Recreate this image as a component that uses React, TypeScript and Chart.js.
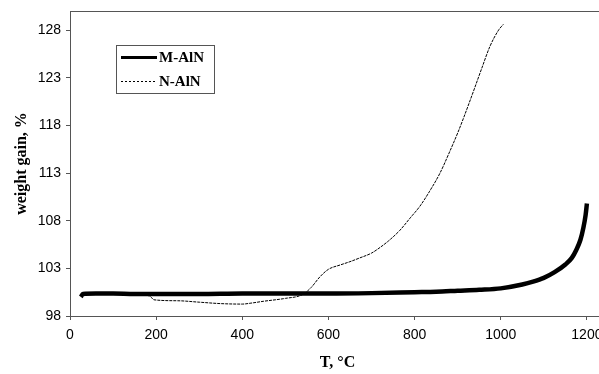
import React, { useEffect, useRef } from "react";
import { Chart, registerables } from "chart.js";

Chart.register(...registerables);

// Temperature (°C) and weight gain (%) readings
const mTemps = [25, 30, 60, 100, 150, 200, 300, 400, 500, 600, 700, 800, 850, 900, 950, 1000, 1050, 1075, 1100, 1125, 1150, 1165, 1175, 1185, 1192, 1197, 1200];
const mWeights = [100.0, 100.3, 100.35, 100.35, 100.3, 100.3, 100.3, 100.35, 100.35, 100.35, 100.4, 100.5, 100.55, 100.65, 100.75, 100.9, 101.3, 101.6, 102.0, 102.6, 103.4, 104.1, 104.9, 106.0, 107.3, 108.6, 109.8];

const nTemps = [30, 100, 150, 185, 195, 250, 300, 350, 400, 420, 450, 500, 540, 560, 580, 600, 627, 650, 673, 700, 720, 740, 766, 790, 812, 835, 859, 882, 900, 913, 936, 956, 975, 995, 1006];
const nWeights = [100.4, 100.3, 100.25, 100.1, 99.7, 99.6, 99.45, 99.3, 99.25, 99.35, 99.55, 99.85, 100.25, 101.0, 102.1, 102.9, 103.35, 103.7, 104.1, 104.6, 105.2, 105.9, 107.0, 108.3, 109.5, 111.1, 113.0, 115.3, 117.2, 118.7, 121.5, 124.0, 126.3, 128.0, 128.6];

const xTicks = [0, 200, 400, 600, 800, 1000, 1200];
const yTicks = [98, 103, 108, 113, 118, 123, 128];

const seriesLabels = ["M-AlN", "N-AlN"];
const xTitle = "T, °C";
const yTitle = "weight gain, %";

const frameColor = "#555";
const serifBold = { family: "'Liberation Serif', 'Times New Roman', serif", size: 16, weight: "bold" as const };
const tickFont = { family: "'Liberation Sans', Arial, sans-serif", size: 14 };

const framePlugin = {
  id: "frame",
  afterDraw(chart: any) {
    const { ctx, chartArea } = chart;
    ctx.save();
    ctx.strokeStyle = frameColor;
    ctx.lineWidth = 1;
    ctx.strokeRect(chartArea.left + 0.5, chartArea.top + 0.5, chartArea.right - chartArea.left, chartArea.bottom - chartArea.top);
    ctx.restore();
  },
};

const legendPlugin = {
  id: "boxLegend",
  afterDraw(chart: any) {
    const { ctx } = chart;
    ctx.save();
    ctx.fillStyle = "#fff";
    ctx.fillRect(116, 45, 98, 48);
    ctx.strokeStyle = frameColor;
    ctx.lineWidth = 1;
    ctx.strokeRect(116.5, 45.5, 98, 48);
    const rows = [57.5, 81.5];
    chart.data.datasets.forEach((ds: any, i: number) => {
      const y = rows[i];
      ctx.beginPath();
      ctx.strokeStyle = "#000";
      ctx.lineWidth = i === 0 ? 3 : 1;
      ctx.setLineDash(i === 0 ? [] : [2, 2]);
      ctx.moveTo(121, y);
      ctx.lineTo(157, y);
      ctx.stroke();
      ctx.setLineDash([]);
      ctx.fillStyle = "#000";
      ctx.font = "bold 15px 'Liberation Serif', 'Times New Roman', serif";
      ctx.textAlign = "left";
      ctx.textBaseline = "middle";
      ctx.fillText(ds.label, 159, y + 1);
    });
    ctx.restore();
  },
};

export default function App() {
  const ref = useRef<HTMLCanvasElement | null>(null);

  useEffect(() => {
    if (!ref.current) return;
    const chart = new Chart(ref.current, {
      type: "line",
      data: {
        datasets: [
          {
            label: seriesLabels[0],
            data: mTemps.map((t, i) => ({ x: t, y: mWeights[i] })),
            borderColor: "#000",
            borderWidth: 4.5,
            pointRadius: 0,
            cubicInterpolationMode: "monotone",
            fill: false,
          },
          {
            label: seriesLabels[1],
            data: nTemps.map((t, i) => ({ x: t, y: nWeights[i] })),
            borderColor: "#000",
            borderWidth: 1,
            borderDash: [3, 1],
            pointRadius: 0,
            cubicInterpolationMode: "monotone",
            fill: false,
          },
        ],
      },
      options: {
        responsive: false,
        animation: false,
        devicePixelRatio: 1,
        layout: { padding: { top: 11, left: 0, right: 0, bottom: 0 } },
        plugins: { legend: { display: false }, tooltip: { enabled: false } },
        scales: {
          x: {
            type: "linear",
            min: 0,
            max: 1242,
            grid: { display: true, drawOnChartArea: false, drawTicks: true, tickLength: 4, color: frameColor },
            border: { display: true, color: frameColor, width: 1 },
            ticks: {
              font: tickFont,
              color: "#000",
              padding: 7,
              maxRotation: 0,
              autoSkip: false,
              callback: (v: any) => String(v),
            },
            afterBuildTicks: (s: any) => {
              s.ticks = xTicks.map((v) => ({ value: v }));
            },
            afterFit: (s: any) => {
              s.height = 58;
              s.paddingRight = 0;
              s.paddingLeft = 0;
            },
            title: { display: true, text: xTitle, font: serifBold, color: "#000", padding: { top: 0, bottom: 2 } },
          },
          y: {
            type: "linear",
            min: 98,
            max: 130,
            grid: { display: true, drawOnChartArea: false, drawTicks: true, tickLength: 4, color: frameColor },
            border: { display: true, color: frameColor, width: 1 },
            ticks: { font: tickFont, color: "#000", padding: 5, autoSkip: false, callback: (v: any) => String(v) },
            afterBuildTicks: (s: any) => {
              s.ticks = yTicks.map((v) => ({ value: v }));
            },
            afterFit: (s: any) => {
              s.width = 70;
              s.paddingTop = 0;
              s.paddingBottom = 0;
            },
            title: { display: true, text: yTitle, font: serifBold, color: "#000", padding: { top: 12, bottom: 0 } },
          },
        },
      },
      plugins: [framePlugin, legendPlugin],
    });
    return () => chart.destroy();
  }, []);

  return (
    <div style={{ position: "absolute", left: 0, top: 0, width: 599, height: 374, overflow: "hidden", background: "#fff" }}>
      <canvas ref={ref} width={605} height={374} style={{ display: "block", width: 605, height: 374 }} />
    </div>
  );
}
